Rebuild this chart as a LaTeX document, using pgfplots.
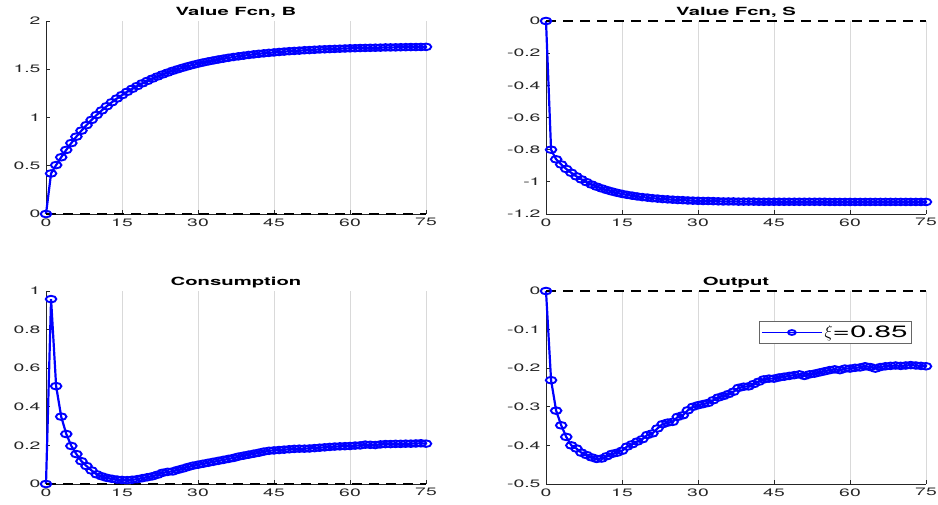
\documentclass[border=0pt]{standalone}
\usepackage{fontspec}
\setmainfont{TeX Gyre Heros}[FakeStretch=1.8]
\usepackage{pgfplots}
\usepackage{pgfplotstable}
\pgfplotsset{compat=1.18}

\definecolor{irfblue}{RGB}{0,0,255}

% Impulse responses: value functions B and S, consumption C, output Y
\pgfplotstableread{
t B S C Y
0 0 0 0 0
1 0.420 -0.800 0.958 -0.231
2 0.507 -0.860 0.507 -0.310
3 0.588 -0.892 0.349 -0.348
4 0.664 -0.920 0.259 -0.378
5 0.735 -0.944 0.197 -0.400
6 0.802 -0.966 0.155 -0.408
7 0.864 -0.985 0.118 -0.419
8 0.921 -1.002 0.093 -0.425
9 0.975 -1.017 0.070 -0.431
10 1.026 -1.030 0.050 -0.435
11 1.073 -1.041 0.040 -0.434
12 1.117 -1.051 0.032 -0.428
13 1.158 -1.060 0.027 -0.422
14 1.197 -1.068 0.023 -0.419
15 1.232 -1.075 0.021 -0.414
16 1.266 -1.081 0.020 -0.403
17 1.297 -1.086 0.022 -0.397
18 1.326 -1.091 0.025 -0.390
19 1.354 -1.095 0.030 -0.384
20 1.379 -1.098 0.035 -0.373
21 1.403 -1.102 0.040 -0.369
22 1.425 -1.104 0.048 -0.356
23 1.446 -1.107 0.058 -0.345
24 1.465 -1.109 0.063 -0.341
25 1.484 -1.111 0.065 -0.339
26 1.500 -1.113 0.073 -0.326
27 1.516 -1.114 0.080 -0.322
28 1.531 -1.116 0.088 -0.309
29 1.545 -1.117 0.095 -0.300
30 1.558 -1.118 0.100 -0.296
31 1.570 -1.119 0.105 -0.293
32 1.581 -1.119 0.110 -0.290
33 1.591 -1.120 0.115 -0.283
34 1.601 -1.121 0.120 -0.276
35 1.610 -1.122 0.125 -0.272
36 1.619 -1.122 0.130 -0.267
37 1.627 -1.122 0.135 -0.261
38 1.634 -1.123 0.142 -0.251
39 1.641 -1.123 0.147 -0.248
40 1.648 -1.123 0.152 -0.247
41 1.654 -1.123 0.157 -0.241
42 1.660 -1.124 0.162 -0.235
43 1.665 -1.124 0.168 -0.229
44 1.670 -1.124 0.172 -0.227
45 1.674 -1.124 0.174 -0.227
46 1.679 -1.124 0.176 -0.224
47 1.683 -1.124 0.178 -0.222
48 1.687 -1.124 0.180 -0.220
49 1.690 -1.124 0.182 -0.218
50 1.693 -1.124 0.183 -0.216
51 1.697 -1.124 0.183 -0.220
52 1.699 -1.124 0.184 -0.216
53 1.702 -1.124 0.186 -0.214
54 1.705 -1.124 0.188 -0.211
55 1.707 -1.124 0.190 -0.208
56 1.709 -1.125 0.192 -0.205
57 1.711 -1.125 0.194 -0.203
58 1.713 -1.125 0.195 -0.205
59 1.715 -1.125 0.196 -0.201
60 1.717 -1.125 0.197 -0.201
61 1.718 -1.125 0.199 -0.199
62 1.720 -1.125 0.200 -0.198
63 1.721 -1.125 0.204 -0.195
64 1.722 -1.125 0.203 -0.197
65 1.723 -1.125 0.202 -0.201
66 1.724 -1.125 0.205 -0.197
67 1.726 -1.125 0.207 -0.195
68 1.726 -1.125 0.207 -0.194
69 1.727 -1.125 0.208 -0.193
70 1.728 -1.125 0.208 -0.194
71 1.729 -1.125 0.209 -0.193
72 1.730 -1.125 0.209 -0.192
73 1.730 -1.125 0.210 -0.193
74 1.731 -1.125 0.211 -0.194
75 1.732 -1.125 0.209 -0.195
}\irfdata

\pgfplotsset{
  irfpanel/.style={
    scale only axis, width=380bp, height=193bp,
    xmin=0, xmax=75, xtick={0,15,...,75},
    axis lines=left, axis line style={-, black!85, line width=0.7bp},
    tick align=inside, major tick length=4bp,
    tick style={black!85, line width=0.7bp},
    xmajorgrids, grid style={black!15, line width=0.7bp},
    clip=false,
    /pgf/number format/assume math mode=true,
    tick label style={font=\fontsize{10.8}{12}\selectfont, black!85},
    xticklabel style={yshift=-1bp},
    yticklabel style={xshift=-2bp},
    title style={font=\bfseries\fontsize{11.3}{13}\selectfont, inner sep=1bp, yshift=-4bp},
  },
  irfline/.style={irfblue, line width=2.2bp, mark=o, mark size=3.3bp,
    mark options={xscale=1.6, line width=1.9bp, solid}},
  zeroline/.style={black, line width=1.4bp, dash pattern=on 10bp off 7bp},
}

\begin{document}
\begin{tikzpicture}
\useasboundingbox (0bp,0bp) rectangle (938bp,505bp);

\begin{axis}[irfpanel, at={(46bp,291bp)}, anchor=south west,
  title={Value Fcn, B}, ymin=0, ymax=2, ytick={0,0.5,...,2}]
  \addplot[irfline] table[x=t, y=B] {\irfdata};
  \addplot[zeroline] coordinates {(0,0) (75,0)};
\end{axis}

\begin{axis}[irfpanel, at={(546bp,291bp)}, anchor=south west,
  title={Value Fcn, S}, ymin=-1.2, ymax=0, ytick={-1.2,-1,-0.8,-0.6,-0.4,-0.2,0}]
  \addplot[irfline] table[x=t, y=S] {\irfdata};
  \addplot[zeroline] coordinates {(0,0) (75,0)};
\end{axis}

\begin{axis}[irfpanel, at={(46bp,21bp)}, anchor=south west,
  title={Consumption}, ymin=0, ymax=1, ytick={0,0.2,0.4,0.6,0.8,1}]
  \addplot[irfline] table[x=t, y=C] {\irfdata};
  \addplot[zeroline] coordinates {(0,0) (75,0)};
\end{axis}

\begin{axis}[irfpanel, at={(546bp,21bp)}, anchor=south west,
  title={Output}, ymin=-0.5, ymax=0, ytick={-0.5,-0.4,-0.3,-0.2,-0.1,0},
  legend style={at={(0.963,0.845)}, anchor=north east,
    draw=black!60, line width=0.7bp, fill=white,
    font=\fontsize{16.5}{18}\selectfont, inner xsep=2bp, inner ysep=2.5bp},
  legend image code/.code={%
    \draw[#1, line width=1.3bp, mark size=2.4bp, mark repeat=2, mark phase=2]
      plot coordinates {(0bp,0bp) (30bp,0bp) (60bp,0bp)};}]
  \addplot[irfline] table[x=t, y=Y] {\irfdata};
  \addlegendentry{$\xi$=0.85}
  \addplot[zeroline, forget plot] coordinates {(0,0) (75,0)};
\end{axis}
\end{tikzpicture}
\end{document}
